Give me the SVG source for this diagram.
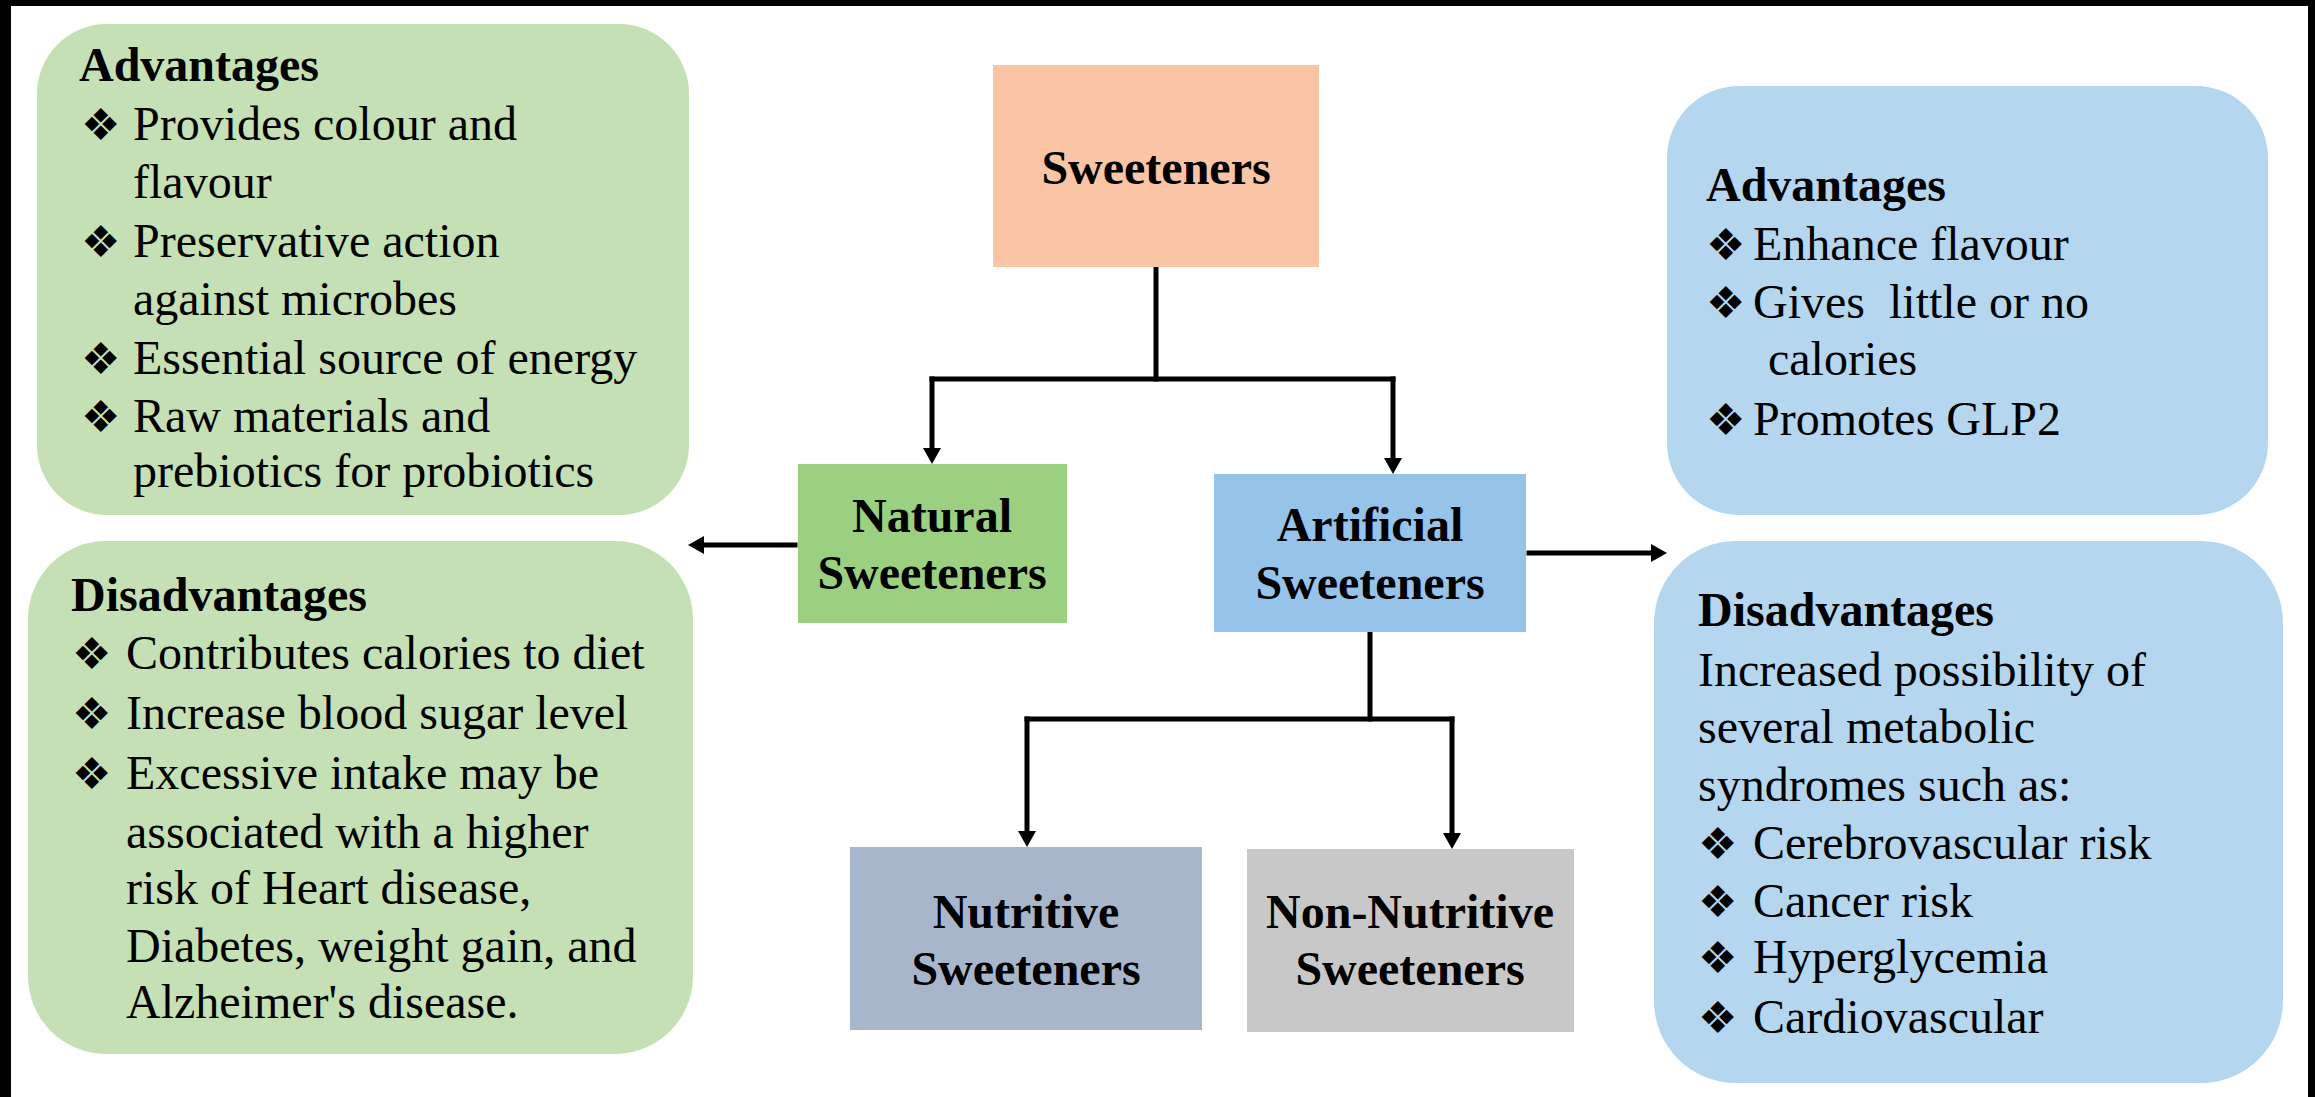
<svg xmlns="http://www.w3.org/2000/svg" width="2315" height="1097" viewBox="0 0 2315 1097">
<style>
  .body { font-family: "Liberation Serif", "Times New Roman", serif; font-size: 48px; fill: #000; }
  .head { font-family: "Liberation Serif", "Times New Roman", serif; font-size: 48px; font-weight: bold; fill: #000; }
  .lbl { font-family: "Liberation Serif", "Times New Roman", serif; font-size: 48px; font-weight: bold; fill: #000; text-anchor: middle; }
  .bul { font-family: "DejaVu Sans", sans-serif; font-size: 44px; fill: #000; }
  .conn { fill: none; stroke: #000; stroke-width: 5; stroke-linecap: square; stroke-linejoin: round; }
  .green-lt { fill: #C5E0B4; }
  .blue-lt { fill: #B4D6EF; }
</style>
<defs>
  <marker id="arrow" viewBox="0 0 16 18" refX="2" refY="9" markerWidth="16" markerHeight="18" markerUnits="userSpaceOnUse" orient="auto">
    <path d="M0,0 L16,9 L0,18 z" fill="#000"/>
  </marker>
</defs>
<rect x="0" y="0" width="2315" height="1097" fill="#FFFFFF"/>
<!-- frame -->
<rect x="0" y="0" width="2315" height="6" fill="#000"/>
<rect x="0" y="0" width="11" height="1097" fill="#000"/>
<rect x="2308" y="0" width="7" height="1097" fill="#000"/>

<g id="connectors">
  <path class="conn" d="M1156,267 V379"/>
  <path class="conn" d="M932,379 H1393"/>
  <path class="conn" d="M932,379 V450" marker-end="url(#arrow)"/>
  <path class="conn" d="M1393,379 V460" marker-end="url(#arrow)"/>
  <path class="conn" d="M795,545 H702" marker-end="url(#arrow)"/>
  <path class="conn" d="M1529,553 H1653" marker-end="url(#arrow)"/>
  <path class="conn" d="M1370,632 V719"/>
  <path class="conn" d="M1027,719 H1452"/>
  <path class="conn" d="M1027,719 V833" marker-end="url(#arrow)"/>
  <path class="conn" d="M1452,719 V835" marker-end="url(#arrow)"/>
</g>

<g id="sweeteners">
  <rect x="993" y="65" width="326" height="202" fill="#F9C5A5"/>
  <text class="lbl" x="1156" y="184">Sweeteners</text>
</g>

<g id="natural">
  <rect x="798" y="464" width="269" height="159" fill="#9BD081"/>
  <text class="lbl" x="932" y="532">Natural</text>
  <text class="lbl" x="932" y="589">Sweeteners</text>
</g>

<g id="artificial">
  <rect x="1214" y="474" width="312" height="158" fill="#95C3EA"/>
  <text class="lbl" x="1370" y="541">Artificial</text>
  <text class="lbl" x="1370" y="599">Sweeteners</text>
</g>

<g id="nutritive">
  <rect x="850" y="847" width="352" height="183" fill="#A8B6CC"/>
  <text class="lbl" x="1026" y="928">Nutritive</text>
  <text class="lbl" x="1026" y="985">Sweeteners</text>
</g>

<g id="non-nutritive">
  <rect x="1247" y="849" width="327" height="183" fill="#C8C8C8"/>
  <text class="lbl" x="1410" y="928">Non-Nutritive</text>
  <text class="lbl" x="1410" y="985">Sweeteners</text>
</g>

<g id="natural-advantages">
  <rect class="green-lt" x="37" y="24" width="652" height="491" rx="70" ry="70"/>
  <text class="head" x="79" y="81">Advantages</text>
  <text class="bul" x="81" y="140">❖</text>
  <text class="body" x="133" y="140">Provides colour and</text>
  <text class="body" x="133" y="198">flavour</text>
  <text class="bul" x="81" y="257">❖</text>
  <text class="body" x="133" y="257">Preservative action</text>
  <text class="body" x="133" y="315">against microbes</text>
  <text class="bul" x="81" y="374">❖</text>
  <text class="body" x="133" y="374">Essential source of energy</text>
  <text class="bul" x="81" y="432">❖</text>
  <text class="body" x="133" y="432">Raw materials and</text>
  <text class="body" x="133" y="487">prebiotics for probiotics</text>
</g>

<g id="natural-disadvantages">
  <rect class="green-lt" x="28" y="541" width="665" height="513" rx="78" ry="78"/>
  <text class="head" x="71" y="611">Disadvantages</text>
  <text class="bul" x="72" y="669">❖</text>
  <text class="body" x="126" y="669">Contributes calories to diet</text>
  <text class="bul" x="72" y="729">❖</text>
  <text class="body" x="126" y="729">Increase blood sugar level</text>
  <text class="bul" x="72" y="789">❖</text>
  <text class="body" x="126" y="789">Excessive intake may be</text>
  <text class="body" x="126" y="848">associated with a higher</text>
  <text class="body" x="126" y="904">risk of Heart disease,</text>
  <text class="body" x="126" y="962">Diabetes, weight gain, and</text>
  <text class="body" x="126" y="1018">Alzheimer's disease.</text>
</g>

<g id="artificial-advantages">
  <rect class="blue-lt" x="1667" y="86" width="601" height="429" rx="72" ry="72"/>
  <text class="head" x="1706" y="201">Advantages</text>
  <text class="bul" x="1706" y="260">❖</text>
  <text class="body" x="1753" y="260">Enhance flavour</text>
  <text class="bul" x="1706" y="318">❖</text>
  <text class="body" x="1753" y="318">Gives&#160; little or no</text>
  <text class="body" x="1768" y="375">calories</text>
  <text class="bul" x="1706" y="435">❖</text>
  <text class="body" x="1753" y="435">Promotes GLP2</text>
</g>

<g id="artificial-disadvantages">
  <rect class="blue-lt" x="1654" y="541" width="629" height="542" rx="82" ry="82"/>
  <text class="head" x="1698" y="626">Disadvantages</text>
  <text class="body" x="1698" y="686">Increased possibility of</text>
  <text class="body" x="1698" y="743">several metabolic</text>
  <text class="body" x="1698" y="801">syndromes such as:</text>
  <text class="bul" x="1698" y="859">❖</text>
  <text class="body" x="1753" y="859">Cerebrovascular risk</text>
  <text class="bul" x="1698" y="917">❖</text>
  <text class="body" x="1753" y="917">Cancer risk</text>
  <text class="bul" x="1698" y="973">❖</text>
  <text class="body" x="1753" y="973">Hyperglycemia</text>
  <text class="bul" x="1698" y="1033">❖</text>
  <text class="body" x="1753" y="1033">Cardiovascular</text>
</g>
</svg>
